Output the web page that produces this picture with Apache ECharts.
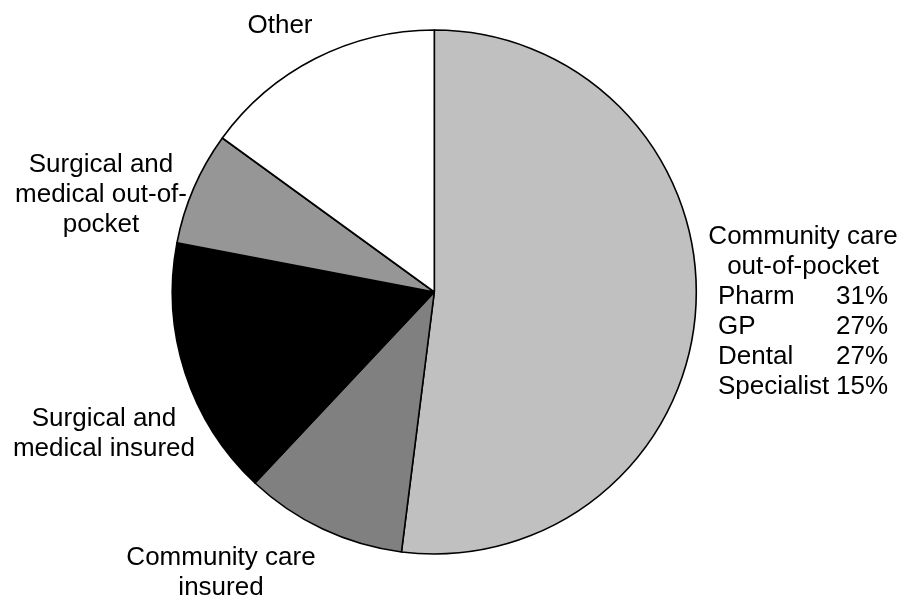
<!DOCTYPE html>
<html>
<head>
<meta charset="utf-8">
<style>
  html, body { margin: 0; padding: 0; background: #ffffff; }
  #chart { width: 900px; height: 600px; }
</style>
<script src="https://cdn.jsdelivr.net/npm/echarts@6/dist/echarts.min.js"></script>
</head>
<body>
<div id="chart"></div>
<script>
// Health spending by funding source (share of total, %)
const categories = [
  'Community care out-of-pocket',
  'Community care insured',
  'Surgical and medical insured',
  'Surgical and medical out-of-pocket',
  'Other'
];
const shares = [52, 10, 16, 7, 15];
const sliceColors = ['#c0c0c0', '#808080', '#000000', '#969696', '#ffffff'];

// Label text for each slice, with its line breaks
const labelLines = [
  ['Community care', 'out-of-pocket'],
  ['Community care', 'insured'],
  ['Surgical and', 'medical insured'],
  ['Surgical and', 'medical out-of-', 'pocket'],
  ['Other']
];

// Breakdown of community care out-of-pocket spending
const subNames = ['Pharm', 'GP', 'Dental', 'Specialist'];
const subShares = [31, 27, 27, 15];

// Label anchor points (block centres, px)
const labelPos = [
  [803, 312],
  [221, 573],
  [104, 434],
  [101, 195],
  [280, 26]
];

function labelText(i) {
  if (i === 0) {
    const head = labelLines[0].map(s => '{h|' + s + '}');
    const rows = subNames.map((n, k) =>
      '{sl| }{n|' + n + '}{p|' + subShares[k] + '%}{sr| }');
    return head.concat(rows).join('\n');
  }
  return labelLines[i].join('\n');
}

const chart = echarts.init(document.getElementById('chart'), null, { renderer: 'canvas' });

chart.setOption({
  animation: false,
  backgroundColor: '#ffffff',
  series: [{
    type: 'pie',
    center: [434.3, 292],
    radius: 262,
    startAngle: 90,
    clockwise: true,
    avoidLabelOverlap: false,
    silent: true,
    itemStyle: { borderColor: '#000000', borderWidth: 1.6 },
    label: {
      show: true,
      position: 'outside',
      color: '#000000',
      fontFamily: 'Liberation Sans, Arial, sans-serif',
      fontSize: 26,
      lineHeight: 30,
      align: 'center',
      formatter: p => labelText(p.dataIndex),
      rich: {
        h: { align: 'center', fontSize: 26, lineHeight: 30, color: '#000' },
        sl: { align: 'left', width: 10, fontSize: 26, lineHeight: 30 },
        sr: { align: 'right', width: 10, fontSize: 26, lineHeight: 30 },
        n: { align: 'left', width: 118, fontSize: 26, lineHeight: 30, color: '#000' },
        p: { align: 'right', width: 52, fontSize: 26, lineHeight: 30, color: '#000' }
      }
    },
    labelLine: { show: false },
    labelLayout: params => {
      const p = labelPos[params.dataIndex];
      return { x: p[0], y: p[1], align: 'center', verticalAlign: 'middle' };
    },
    emphasis: { disabled: true },
    data: categories.map((name, i) => ({
      name: name,
      value: shares[i],
      itemStyle: { color: sliceColors[i] }
    }))
  }]
});
</script>
</body>
</html>
